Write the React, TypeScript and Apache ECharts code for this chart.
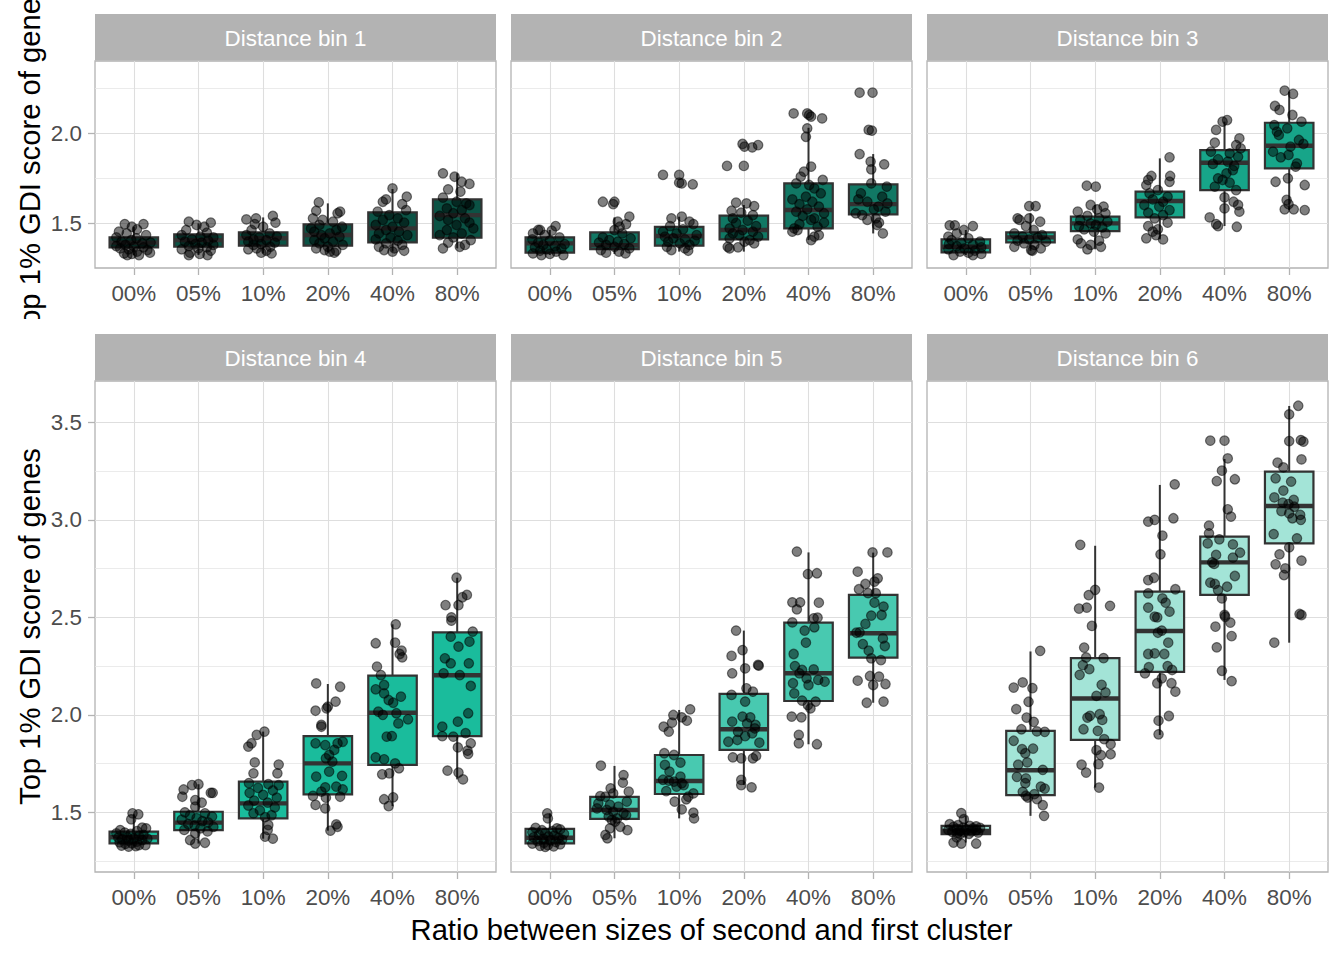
import React, { useEffect, useRef } from "react";
import * as echarts from "echarts";

const categories = ["00%", "05%", "10%", "20%", "40%", "80%"];
const panelTitles = ["Distance bin 1", "Distance bin 2", "Distance bin 3", "Distance bin 4", "Distance bin 5", "Distance bin 6"];
const boxFills = ["#0B5345", "#117864", "#17A589", "#1ABC9C", "#48C9B0", "#A3E4D7"];
const yTitle = "Top 1% GDI score of genes";
const xTitle = "Ratio between sizes of second and first cluster";

const topRowRange = [1.252, 2.402];
const bottomRowRange = [1.194, 3.712];
const topRowMajor = [1.5, 2.0];
const topRowGrid = [1.25, 1.5, 1.75, 2.0, 2.25];
const bottomRowMajor = [1.5, 2.0, 2.5, 3.0, 3.5];
const bottomRowGrid = [1.25, 1.5, 1.75, 2.0, 2.25, 2.5, 2.75, 3.0, 3.25, 3.5];

// box stats per category: [lower whisker, q1, median, q3, upper whisker]
const boxBin1 = [
  [1.324, 1.367, 1.393, 1.422, 1.481],
  [1.324, 1.37, 1.407, 1.439, 1.5],
  [1.333, 1.376, 1.417, 1.45, 1.533],
  [1.337, 1.376, 1.435, 1.494, 1.611],
  [1.343, 1.394, 1.472, 1.561, 1.691],
  [1.361, 1.42, 1.546, 1.633, 1.778],
];
const boxBin2 = [
  [1.324, 1.337, 1.389, 1.422, 1.463],
  [1.33, 1.357, 1.378, 1.45, 1.533],
  [1.343, 1.376, 1.43, 1.481, 1.537],
  [1.343, 1.411, 1.463, 1.543, 1.602],
  [1.407, 1.472, 1.574, 1.722, 2.031],
  [1.444, 1.55, 1.607, 1.717, 1.885],
];
const boxBin3 = [
  [1.324, 1.339, 1.37, 1.411, 1.463],
  [1.348, 1.394, 1.422, 1.45, 1.556],
  [1.356, 1.457, 1.5, 1.537, 1.602],
  [1.411, 1.533, 1.624, 1.676, 1.861],
  [1.485, 1.685, 1.837, 1.907, 2.065],
  [1.574, 1.806, 1.931, 2.059, 2.231],
];
const boxBin4 = [
  [1.324, 1.341, 1.372, 1.401, 1.49],
  [1.34, 1.409, 1.447, 1.503, 1.644],
  [1.365, 1.469, 1.546, 1.657, 1.914],
  [1.406, 1.592, 1.751, 1.891, 2.158],
  [1.532, 1.743, 2.011, 2.201, 2.464],
  [1.669, 1.891, 2.203, 2.423, 2.703],
];
const boxBin5 = [
  [1.324, 1.341, 1.37, 1.415, 1.495],
  [1.367, 1.466, 1.512, 1.579, 1.738],
  [1.469, 1.594, 1.661, 1.794, 2.025],
  [1.64, 1.82, 1.926, 2.107, 2.432],
  [1.849, 2.071, 2.213, 2.473, 2.833],
  [2.062, 2.293, 2.418, 2.615, 2.832],
];
const boxBin6 = [
  [1.345, 1.388, 1.405, 1.431, 1.482],
  [1.482, 1.588, 1.716, 1.918, 2.325],
  [1.627, 1.872, 2.084, 2.291, 2.867],
  [1.897, 2.22, 2.43, 2.632, 3.179],
  [2.179, 2.615, 2.782, 2.914, 3.312],
  [2.37, 2.879, 3.071, 3.247, 3.584],
];

// jittered points per category: [jitter offset from the category, value]
const pointsBin1 = [
  [[-0.14,1.496],[0.15,1.496],[-0.03,1.481],[0.05,1.467],[-0.23,1.454],[-0.11,1.444],[0.19,1.435],[-0.27,1.422],[0.04,1.417],[-0.04,1.407],[-0.19,1.398],[0.26,1.393],[0.13,1.389],[-0.13,1.38],[-0.27,1.374],[0,1.37],[0.15,1.367],[-0.21,1.361],[-0.08,1.356],[0.21,1.352],[0.05,1.343],[0.25,1.337],[-0.15,1.333],[-0.03,1.33],[-0.1,1.324],[0.08,1.324]],
  [[-0.15,1.509],[0.19,1.504],[-0.03,1.491],[0.09,1.481],[-0.19,1.463],[0.13,1.448],[-0.26,1.435],[0.03,1.426],[0.23,1.422],[-0.1,1.411],[0.15,1.404],[-0.21,1.398],[0.05,1.393],[-0.05,1.385],[0.23,1.38],[-0.15,1.374],[0.13,1.367],[0,1.361],[-0.26,1.356],[0.19,1.348],[-0.13,1.337],[0.02,1.33],[0.14,1.324],[-0.15,1.324]],
  [[0.15,1.541],[-0.11,1.528],[-0.26,1.522],[0.19,1.504],[-0.13,1.496],[0,1.481],[-0.18,1.463],[0.1,1.444],[-0.26,1.435],[0.21,1.426],[-0.06,1.422],[-0.15,1.411],[0.05,1.407],[-0.23,1.398],[0.18,1.393],[-0.03,1.385],[-0.15,1.38],[0.11,1.37],[-0.1,1.361],[-0.23,1.356],[0.05,1.348],[-0.03,1.337],[0.13,1.333]],
  [[-0.14,1.617],[-0.18,1.57],[0.19,1.565],[0.15,1.556],[-0.23,1.528],[-0.08,1.519],[0.08,1.509],[-0.13,1.491],[0.22,1.481],[-0.26,1.472],[0.13,1.463],[-0.21,1.454],[0.03,1.444],[-0.1,1.435],[0.18,1.426],[-0.05,1.417],[-0.21,1.407],[0.08,1.398],[-0.13,1.389],[0.23,1.38],[0,1.37],[-0.18,1.361],[-0.05,1.352],[0.13,1.348],[0.03,1.343],[0.1,1.337]],
  [[0,1.694],[0.22,1.648],[-0.1,1.633],[-0.15,1.62],[0.15,1.607],[0.21,1.574],[-0.23,1.565],[-0.05,1.546],[0.08,1.528],[-0.15,1.519],[0.18,1.504],[-0.26,1.491],[0,1.481],[-0.1,1.463],[0.1,1.454],[-0.21,1.444],[0.23,1.435],[-0.03,1.422],[-0.26,1.411],[0.08,1.404],[-0.1,1.389],[0.15,1.38],[-0.21,1.37],[0.03,1.361],[-0.13,1.352],[0.18,1.348],[0,1.343]],
  [[-0.22,1.778],[-0.04,1.759],[0.07,1.731],[0.19,1.719],[-0.14,1.689],[0.05,1.676],[-0.22,1.643],[-0.01,1.62],[0.14,1.611],[0.19,1.602],[-0.16,1.583],[0.07,1.574],[-0.06,1.556],[-0.27,1.541],[0.12,1.528],[-0.14,1.519],[0.19,1.504],[-0.01,1.491],[0.25,1.472],[-0.16,1.463],[0.07,1.444],[-0.27,1.435],[-0.06,1.422],[0.21,1.407],[-0.14,1.393],[0.12,1.38],[0.04,1.37],[-0.22,1.361]],
];
const pointsBin2 = [
  [[0.09,1.485],[-0.18,1.463],[-0.15,1.463],[0.03,1.459],[-0.26,1.444],[-0.08,1.435],[0.15,1.422],[-0.27,1.411],[0,1.404],[-0.18,1.393],[0.23,1.385],[-0.1,1.38],[0.08,1.374],[-0.23,1.367],[0.18,1.361],[-0.05,1.356],[-0.15,1.348],[0.1,1.343],[-0.26,1.333],[0,1.33],[0.21,1.324],[-0.13,1.324]],
  [[-0.18,1.62],[0,1.62],[-0.02,1.607],[0.23,1.537],[0.05,1.509],[0.18,1.496],[0.08,1.481],[0,1.463],[0.12,1.444],[-0.18,1.422],[0.25,1.417],[-0.08,1.407],[0.05,1.398],[-0.24,1.393],[0.15,1.385],[-0.13,1.38],[0,1.37],[0.23,1.361],[-0.21,1.352],[0.07,1.343],[-0.13,1.337],[0.17,1.333]],
  [[-0.25,1.769],[0,1.769],[0,1.726],[0.21,1.717],[0.04,1.722],[0.04,1.537],[-0.12,1.528],[0.16,1.509],[0.22,1.496],[-0.14,1.485],[0.06,1.467],[-0.25,1.454],[-0.04,1.444],[0.27,1.435],[-0.22,1.426],[-0.09,1.417],[0.09,1.411],[0.24,1.404],[-0.17,1.398],[0.01,1.389],[0.16,1.38],[-0.19,1.37],[0.09,1.361],[-0.12,1.352],[0.14,1.348]],
  [[-0.02,1.941],[0.01,1.926],[0.22,1.935],[0.13,1.922],[-0.26,1.819],[0,1.819],[-0.12,1.615],[0.04,1.611],[0.16,1.596],[-0.19,1.57],[-0.04,1.559],[0.14,1.546],[-0.17,1.528],[0.06,1.515],[-0.12,1.502],[0.19,1.485],[-0.22,1.472],[-0.02,1.463],[0.14,1.454],[-0.17,1.444],[-0.07,1.435],[0.22,1.426],[-0.22,1.417],[0.09,1.407],[0.01,1.398],[0.16,1.389],[-0.25,1.37],[-0.09,1.367],[-0.22,1.361]],
  [[-0.23,2.111],[-0.02,2.111],[0.01,2.102],[0.04,2.093],[0.21,2.083],[-0.02,2.028],[-0.04,1.981],[0.04,1.815],[-0.07,1.787],[-0.12,1.759],[0.22,1.741],[-0.19,1.722],[0.01,1.713],[0.09,1.694],[0.19,1.667],[-0.04,1.648],[-0.25,1.633],[0.06,1.62],[-0.14,1.607],[0.16,1.593],[-0.02,1.578],[-0.19,1.565],[0.24,1.556],[-0.09,1.541],[0.09,1.528],[0.04,1.519],[0.24,1.504],[-0.14,1.496],[0.14,1.481],[-0.22,1.472],[-0.17,1.463],[-0.25,1.454],[0.16,1.435],[0.09,1.426],[0.04,1.407]],
  [[-0.21,2.226],[-0.01,2.226],[-0.07,2.019],[-0.02,2.015],[-0.21,1.885],[-0.04,1.843],[0.17,1.828],[-0.03,1.8],[-0.03,1.722],[0.21,1.704],[-0.19,1.667],[0.14,1.648],[-0.23,1.633],[-0.09,1.62],[0.22,1.611],[0.08,1.593],[0.01,1.578],[0.19,1.565],[-0.27,1.556],[-0.17,1.546],[0.04,1.528],[-0.09,1.519],[0.09,1.504],[0.06,1.491],[0.15,1.444]],
];
const pointsBin3 = [
  [[-0.25,1.489],[-0.17,1.489],[0.11,1.485],[-0.03,1.463],[-0.14,1.444],[-0.27,1.426],[0.04,1.417],[-0.22,1.407],[0.22,1.398],[-0.07,1.393],[-0.26,1.385],[0.11,1.38],[-0.14,1.374],[0.24,1.367],[-0.02,1.361],[-0.27,1.356],[0.14,1.348],[-0.09,1.343],[0.04,1.337],[0.24,1.33],[-0.19,1.324],[0.11,1.324]],
  [[-0.02,1.596],[0.08,1.596],[-0.2,1.528],[-0.17,1.519],[-0.02,1.528],[0.15,1.509],[-0.07,1.485],[0.05,1.463],[-0.25,1.444],[0.18,1.435],[-0.12,1.426],[0.11,1.422],[-0.02,1.411],[-0.2,1.404],[0.24,1.398],[-0.1,1.389],[0.06,1.38],[-0.25,1.37],[0.16,1.361],[0.01,1.352],[0.03,1.348]],
  [[-0.13,1.709],[0.01,1.704],[-0.07,1.602],[0.13,1.593],[0.03,1.578],[-0.27,1.565],[0.16,1.556],[-0.12,1.541],[0.06,1.528],[-0.23,1.519],[0.19,1.509],[-0.07,1.5],[0.01,1.491],[-0.25,1.485],[0.11,1.478],[-0.17,1.467],[-0.02,1.454],[0.16,1.444],[-0.27,1.411],[0.06,1.404],[-0.22,1.389],[-0.07,1.38],[0.09,1.37],[-0.12,1.356]],
  [[0.15,1.867],[-0.13,1.763],[0.16,1.763],[-0.18,1.741],[0.15,1.731],[-0.21,1.713],[-0.03,1.685],[-0.16,1.667],[0.12,1.648],[-0.11,1.633],[0.05,1.62],[-0.24,1.602],[-0.01,1.593],[0.15,1.574],[-0.18,1.559],[0.05,1.546],[-0.08,1.528],[0.12,1.504],[-0.18,1.485],[-0.03,1.467],[-0.11,1.454],[-0.06,1.435],[-0.21,1.417],[0.05,1.411]],
  [[0.04,2.074],[-0.03,2.065],[-0.13,2.019],[0.23,1.972],[-0.15,1.948],[0.18,1.935],[0.25,1.917],[-0.21,1.898],[0.08,1.889],[0.21,1.87],[-0.1,1.856],[0.05,1.843],[-0.18,1.83],[0.15,1.819],[0.13,1.796],[0.03,1.778],[-0.1,1.75],[-0.03,1.741],[0.08,1.726],[-0.15,1.704],[0.18,1.685],[0,1.644],[0.14,1.62],[0.21,1.602],[0,1.583],[0.23,1.565],[-0.23,1.533],[-0.13,1.496],[-0.1,1.485],[0.19,1.481]],
  [[-0.07,2.237],[0.06,2.219],[-0.22,2.152],[-0.15,2.13],[0.05,2.102],[0.19,2.065],[-0.23,2.046],[-0.03,2.028],[-0.19,2.009],[-0.16,1.991],[0.15,1.963],[0.22,1.941],[0.02,1.926],[-0.25,1.898],[-0.01,1.88],[-0.13,1.867],[0.12,1.833],[0.1,1.815],[-0.02,1.75],[-0.21,1.731],[0.24,1.713],[-0.04,1.63],[-0.01,1.607],[-0.07,1.578],[0.07,1.578],[0.24,1.574]],
];
const pointsBin4 = [
  [[-0.02,1.495],[0.07,1.49],[-0.04,1.464],[0.13,1.421],[0.19,1.418],[-0.21,1.409],[0.05,1.404],[-0.14,1.396],[-0.27,1.392],[-0.05,1.389],[0.15,1.384],[0.08,1.379],[-0.1,1.372],[-0.24,1.37],[0,1.367],[0.21,1.365],[-0.18,1.362],[0.13,1.358],[-0.08,1.355],[0.05,1.35],[-0.22,1.346],[-0.03,1.341],[-0.13,1.338],[0.08,1.332],[-0.19,1.329],[0.03,1.327],[-0.08,1.324],[0.18,1.332]],
  [[0,1.644],[-0.1,1.64],[-0.23,1.617],[0.22,1.6],[0.19,1.6],[-0.25,1.58],[-0.05,1.563],[0.05,1.55],[-0.05,1.529],[-0.21,1.5],[0.1,1.495],[-0.13,1.485],[0.21,1.478],[-0.03,1.47],[-0.26,1.462],[0.06,1.455],[0.15,1.448],[-0.16,1.44],[-0.06,1.432],[0.23,1.425],[0.03,1.418],[-0.22,1.41],[0.14,1.402],[-0.05,1.392],[-0.13,1.358],[0.1,1.344],[-0.05,1.34]],
  [[0.02,1.914],[-0.1,1.897],[-0.18,1.854],[-0.23,1.837],[-0.13,1.756],[0.24,1.745],[-0.15,1.7],[0.22,1.7],[-0.22,1.65],[0.08,1.645],[0.24,1.64],[-0.08,1.625],[0.15,1.612],[-0.21,1.6],[0,1.59],[0.21,1.575],[-0.14,1.56],[0.07,1.55],[-0.23,1.535],[0.18,1.525],[-0.05,1.51],[-0.15,1.495],[0.13,1.485],[0.03,1.475],[0.08,1.435],[0.07,1.41],[0.03,1.375],[0.15,1.365]],
  [[-0.18,2.161],[0.19,2.144],[0.12,2.068],[0,2.042],[-0.02,2.033],[-0.19,2.021],[-0.1,1.948],[-0.1,1.939],[-0.19,1.854],[-0.04,1.845],[0.15,1.854],[0.23,1.862],[0.1,1.82],[0.02,1.794],[-0.03,1.777],[0.07,1.76],[0.02,1.709],[-0.18,1.683],[0.22,1.687],[-0.04,1.628],[0.13,1.632],[0.23,1.618],[-0.1,1.606],[-0.23,1.584],[-0.03,1.575],[0.19,1.58],[-0.19,1.538],[-0.04,1.52],[0.13,1.438],[0.15,1.426],[0.04,1.406]],
  [[0.05,2.464],[-0.26,2.367],[0.04,2.37],[0.14,2.329],[0.11,2.312],[0.15,2.295],[-0.24,2.247],[-0.18,2.204],[-0.13,2.153],[-0.26,2.131],[-0.13,2.11],[0.13,2.093],[-0.06,2.076],[0.01,2.062],[-0.22,2.016],[0.06,2.008],[-0.15,2.0],[0.24,1.977],[0.09,1.956],[-0.09,1.888],[-0.01,1.891],[-0.26,1.782],[-0.13,1.772],[0.04,1.751],[0.1,1.726],[-0.05,1.7],[-0.16,1.695],[-0.13,1.567],[0.01,1.577],[-0.06,1.532]],
  [[-0.01,2.703],[0.15,2.615],[0.08,2.603],[-0.18,2.563],[0.02,2.563],[-0.09,2.5],[-0.09,2.483],[0.24,2.427],[-0.1,2.401],[0.19,2.375],[0.02,2.35],[-0.19,2.29],[-0.1,2.264],[0.18,2.264],[-0.21,2.213],[0.04,2.204],[0.21,2.148],[0.17,2.008],[0.01,1.965],[-0.23,1.939],[0.13,1.906],[-0.23,1.891],[-0.06,1.888],[0.21,1.854],[0.01,1.833],[0.16,1.816],[0.17,1.8],[-0.15,1.714],[0.02,1.704],[0.09,1.669]],
];
const pointsBin5 = [
  [[-0.04,1.495],[-0.03,1.469],[-0.22,1.42],[0.11,1.418],[0.16,1.412],[-0.12,1.408],[0.04,1.403],[-0.27,1.398],[-0.07,1.393],[0.22,1.39],[-0.17,1.385],[0.07,1.38],[-0.02,1.376],[-0.25,1.372],[0.14,1.368],[-0.1,1.364],[0.19,1.36],[0.01,1.356],[-0.19,1.352],[0.09,1.348],[-0.09,1.344],[-0.27,1.34],[0.16,1.336],[-0.03,1.332],[-0.15,1.328],[0.06,1.325],[-0.07,1.323]],
  [[-0.21,1.739],[0.14,1.691],[0.13,1.652],[-0.06,1.623],[0.22,1.606],[-0.02,1.597],[-0.22,1.583],[-0.14,1.58],[0.19,1.555],[-0.25,1.546],[-0.07,1.538],[0.06,1.529],[-0.27,1.52],[-0.12,1.512],[-0.02,1.503],[0.14,1.495],[0.18,1.486],[-0.09,1.478],[0.04,1.469],[-0.04,1.461],[0.01,1.452],[0.09,1.426],[-0.07,1.418],[0.2,1.409],[-0.14,1.384],[-0.11,1.367]],
  [[0.17,2.028],[-0.09,1.999],[0.04,1.987],[0.12,1.97],[-0.11,1.96],[-0.24,1.939],[-0.16,1.914],[-0.23,1.803],[-0.08,1.794],[0.02,1.755],[-0.22,1.743],[-0.15,1.709],[0.02,1.683],[-0.25,1.667],[-0.16,1.662],[-0.08,1.657],[0.04,1.649],[0.07,1.64],[-0.04,1.632],[-0.2,1.609],[0.22,1.597],[0.14,1.58],[0.11,1.567],[-0.07,1.555],[0.04,1.515],[0.22,1.498],[0.23,1.469]],
  [[-0.12,2.432],[-0.02,2.332],[-0.19,2.302],[0.22,2.256],[0.23,2.252],[0.02,2.238],[-0.18,2.213],[0.04,2.136],[0.14,2.119],[-0.19,2.102],[0.02,2.068],[-0.02,1.991],[0.1,1.987],[-0.18,1.965],[0.05,1.956],[0.18,1.948],[0.17,1.93],[-0.09,1.913],[0.13,1.905],[0.02,1.891],[-0.1,1.871],[-0.24,1.862],[0.24,1.857],[0.19,1.789],[-0.17,1.782],[-0.04,1.777],[0.14,1.777],[-0.04,1.666],[-0.04,1.64],[0.12,1.628]],
  [[-0.18,2.837],[-0.01,2.722],[0.13,2.726],[-0.25,2.577],[-0.13,2.577],[-0.18,2.541],[0.16,2.575],[0.14,2.498],[0.08,2.495],[-0.25,2.474],[0.09,2.449],[-0.06,2.432],[-0.04,2.37],[-0.23,2.312],[-0.21,2.25],[-0.1,2.23],[0.08,2.233],[-0.14,2.213],[-0.03,2.187],[0.15,2.179],[0.25,2.17],[-0.24,2.162],[0,2.153],[-0.22,2.11],[-0.1,2.073],[0.11,2.068],[-0.01,2.05],[0.03,2.033],[-0.26,1.991],[-0.11,1.987],[-0.15,1.897],[-0.15,1.854],[0.13,1.849]],
  [[-0.01,2.833],[0.22,2.833],[-0.24,2.734],[0.07,2.7],[0.02,2.683],[-0.12,2.671],[-0.22,2.644],[-0.08,2.624],[0.04,2.624],[0.02,2.575],[0.16,2.555],[0.13,2.512],[-0.03,2.509],[-0.12,2.466],[-0.21,2.423],[-0.26,2.421],[0.15,2.392],[-0.16,2.363],[0.18,2.353],[-0.07,2.329],[-0.03,2.29],[0.12,2.281],[-0.05,2.199],[0.09,2.196],[-0.24,2.175],[0,2.153],[0.19,2.158],[-0.1,2.062],[0.16,2.068]],
];
const pointsBin6 = [
  [[-0.07,1.496],[-0.03,1.465],[-0.25,1.439],[-0.12,1.434],[0.06,1.43],[0.16,1.428],[-0.19,1.425],[-0.04,1.422],[0.22,1.42],[0.11,1.418],[-0.14,1.415],[0.01,1.412],[-0.27,1.41],[0.16,1.408],[-0.09,1.405],[0.09,1.402],[-0.21,1.4],[-0.02,1.398],[0.19,1.396],[-0.13,1.393],[0.05,1.39],[-0.09,1.388],[-0.14,1.371],[-0.19,1.345],[-0.07,1.34],[0.16,1.34]],
  [[0.15,2.328],[-0.12,2.166],[-0.26,2.14],[0.03,2.137],[-0.03,2.067],[-0.22,2.029],[-0.06,1.986],[0.05,1.964],[-0.14,1.926],[0.1,1.915],[0.22,1.913],[-0.26,1.867],[-0.13,1.824],[0.04,1.827],[-0.08,1.803],[-0.19,1.744],[-0.05,1.756],[0.19,1.718],[-0.21,1.682],[-0.07,1.674],[-0.08,1.65],[0.16,1.632],[0.22,1.622],[-0.12,1.605],[0.06,1.593],[-0.07,1.585],[-0.04,1.576],[0.1,1.568],[0.19,1.537],[0.21,1.482]],
  [[-0.23,2.872],[0,2.641],[-0.1,2.614],[0.23,2.559],[-0.13,2.55],[-0.25,2.545],[-0.05,2.456],[-0.17,2.345],[-0.14,2.294],[0.13,2.291],[-0.19,2.255],[-0.09,2.234],[-0.24,2.205],[0.1,2.154],[0.16,2.115],[0.02,2.097],[-0.08,1.995],[-0.12,1.986],[0.07,2.003],[0.11,1.974],[-0.18,1.926],[0.04,1.918],[0.14,1.875],[0.24,1.85],[0.02,1.819],[0.24,1.798],[0.09,1.793],[0.05,1.747],[-0.21,1.744],[-0.14,1.704],[0.06,1.627]],
  [[0.23,3.182],[0.21,3.008],[-0.18,2.991],[-0.08,3.0],[0.04,2.919],[0.01,2.823],[-0.09,2.703],[-0.18,2.691],[0.24,2.644],[-0.18,2.623],[0.04,2.597],[0.09,2.575],[-0.18,2.55],[0.15,2.529],[-0.08,2.503],[-0.04,2.5],[0.03,2.432],[-0.03,2.421],[0.13,2.37],[-0.18,2.312],[0.07,2.312],[-0.08,2.315],[0.12,2.25],[-0.17,2.244],[0.19,2.23],[-0.23,2.213],[0.03,2.187],[-0.04,2.162],[0.18,2.162],[0.24,2.119],[0.14,1.994],[-0.02,1.97],[-0.02,1.9]],
  [[-0.22,3.406],[0,3.406],[0.05,3.315],[-0.04,3.252],[0.16,3.208],[-0.12,3.199],[0.05,3.054],[0.1,3.016],[-0.24,2.97],[-0.24,2.931],[-0.08,2.9],[-0.26,2.879],[0.13,2.874],[0.24,2.832],[-0.13,2.82],[0.13,2.806],[-0.19,2.782],[-0.16,2.774],[0.16,2.712],[-0.22,2.678],[-0.15,2.671],[0.04,2.657],[-0.1,2.64],[-0.04,2.597],[0,2.512],[0.01,2.503],[0.09,2.473],[-0.14,2.452],[0.11,2.404],[-0.12,2.346],[-0.04,2.226],[0.11,2.173]],
  [[0.14,3.585],[0,3.541],[0,3.404],[0.18,3.409],[0.22,3.401],[0.19,3.31],[-0.18,3.293],[-0.09,3.269],[-0.21,3.213],[0.03,3.196],[-0.09,3.15],[-0.23,3.115],[0.07,3.102],[-0.1,3.088],[-0.01,3.081],[0.08,3.067],[-0.12,3.045],[0,3.033],[0.17,3.025],[0.05,3.008],[0.18,3.0],[-0.24,2.927],[0.12,2.905],[0,2.859],[-0.15,2.823],[-0.21,2.772],[0.19,2.791],[-0.06,2.751],[-0.08,2.717],[0.16,2.517],[0.19,2.512],[-0.23,2.37]],
];

const allBoxes = [boxBin1, boxBin2, boxBin3, boxBin4, boxBin5, boxBin6];
const allPoints = [pointsBin1, pointsBin2, pointsBin3, pointsBin4, pointsBin5, pointsBin6];

const FONT = '"Liberation Sans", Arial, sans-serif';
const panelLefts = [95, 511, 927];
const panelWidth = 401;
const rowTops = [61, 381];
const rowHeights = [207, 491];
const stripH = 47;

function makeBoxRenderer(fill: string) {
  return (_params: any, api: any) => {
    const x = api.value(0);
    const lo = api.coord([x, api.value(1)]);
    const q1 = api.coord([x, api.value(2)]);
    const med = api.coord([x, api.value(3)]);
    const q3 = api.coord([x, api.value(4)]);
    const hi = api.coord([x, api.value(5)]);
    const w = Math.abs(api.size([0.75, 0])[0]);
    const cx = lo[0];
    const stroke = "#333333";
    return {
      type: "group",
      children: [
        { type: "line", shape: { x1: cx, y1: hi[1], x2: cx, y2: q3[1] }, style: { stroke, lineWidth: 2 } },
        { type: "line", shape: { x1: cx, y1: q1[1], x2: cx, y2: lo[1] }, style: { stroke, lineWidth: 2 } },
        { type: "rect", shape: { x: cx - w / 2, y: q3[1], width: w, height: q1[1] - q3[1] }, style: { fill, stroke, lineWidth: 2.2 } },
        { type: "line", shape: { x1: cx - w / 2, y1: med[1], x2: cx + w / 2, y2: med[1] }, style: { stroke, lineWidth: 4.4 } },
      ],
    };
  };
}

export default function App() {
  const ref = useRef<HTMLDivElement>(null);
  useEffect(() => {
    if (!ref.current) return;
    const chart = echarts.init(ref.current, undefined, { renderer: "svg" });
    const grids: any[] = [];
    const xAxes: any[] = [];
    const yAxes: any[] = [];
    const series: any[] = [];
    const graphics: any[] = [];

    for (let p = 0; p < 6; p++) {
      const row = Math.floor(p / 3);
      const col = p % 3;
      const left = panelLefts[col];
      const top = rowTops[row];
      const height = rowHeights[row];
      const range = row === 0 ? topRowRange : bottomRowRange;
      const major = row === 0 ? topRowMajor : bottomRowMajor;
      const gridVals = row === 0 ? topRowGrid : bottomRowGrid;
      grids.push({
        left, top, width: panelWidth, height,
        show: true, borderColor: "#B3B3B3", borderWidth: 1.3, backgroundColor: "transparent",
      });
      xAxes.push({
        type: "value", gridIndex: p, min: -0.6, max: 5.6, position: "bottom",
        axisLine: { show: false },
        axisTick: { show: true, customValues: [0, 1, 2, 3, 4, 5], length: 7, lineStyle: { color: "#B3B3B3", width: 1.3 } },
        axisLabel: {
          customValues: [0, 1, 2, 3, 4, 5], showMinLabel: true, showMaxLabel: true,
          formatter: (v: number) => categories[Math.round(v)] ?? "",
          color: "#4D4D4D", fontSize: 22.4, fontFamily: FONT, margin: 14,
        },
        splitLine: { show: true, lineStyle: { color: "#DEDEDE", width: 1.1 } },
      });
      yAxes.push({
        type: "value", gridIndex: p, min: range[0], max: range[1], position: "left", offset: 0,
        axisLine: { show: false },
        axisTick: { show: false, customValues: gridVals },
        axisLabel: { show: false, customValues: gridVals },
        splitLine: { show: true, lineStyle: { color: "#E6E6E6", width: 0.8 } },
      });
      yAxes.push({
        type: "value", gridIndex: p, min: range[0], max: range[1], position: "left", offset: 0,
        axisLine: { show: false },
        axisTick: { show: col === 0, customValues: major, length: 7, lineStyle: { color: "#B3B3B3", width: 1.3 } },
        axisLabel: {
          show: col === 0, customValues: major, showMinLabel: true, showMaxLabel: true,
          formatter: (v: number) => v.toFixed(1),
          color: "#4D4D4D", fontSize: 22.4, fontFamily: FONT, margin: 13,
        },
        splitLine: { show: true, lineStyle: { color: "#DEDEDE", width: 1.1 } },
      });
      series.push({
        type: "custom", xAxisIndex: p, yAxisIndex: 2 * p + 1,
        renderItem: makeBoxRenderer(boxFills[p]),
        encode: { x: 0, y: [1, 2, 3, 4, 5] },
        data: allBoxes[p].map((s, i) => [i, ...s]),
        z: 2, clip: false,
      });
      series.push({
        type: "scatter", xAxisIndex: p, yAxisIndex: 2 * p + 1,
        symbol: "circle", symbolSize: 9.5,
        itemStyle: { color: "rgba(0,0,0,0.5)", borderColor: "rgba(0,0,0,0.5)", borderWidth: 1.2, opacity: 1 },
        data: allPoints[p].flatMap((grp, i) => grp.map(([dx, v]) => [i + dx, v])),
        z: 3, silent: true,
      });
      graphics.push({
        type: "rect", shape: { x: left, y: top - stripH, width: panelWidth, height: stripH - 0.5 },
        style: { fill: "#B3B3B3" }, silent: true,
      });
      graphics.push({
        type: "text", x: left + panelWidth / 2, y: top - stripH / 2 + 1,
        style: { text: panelTitles[p], fill: "#FFFFFF", fontSize: 22.4, fontFamily: FONT, align: "center", verticalAlign: "middle" },
        silent: true,
      });
    }

    // top-row axis title, clipped at the bottom of the upper sub-figure as in the original
    graphics.push({
      type: "text", x: 30, y: 162, rotation: Math.PI / 2,
      style: { text: yTitle, fill: "#000000", fontSize: 29.2, fontFamily: FONT, align: "center", verticalAlign: "middle" },
      z: 5, silent: true,
    });
    graphics.push({
      type: "rect", shape: { x: 0, y: 319, width: 47, height: 125 },
      style: { fill: "#FFFFFF" }, z: 6, silent: true,
    });
    graphics.push({
      type: "text", x: 30, y: (rowTops[1] + rowTops[1] + rowHeights[1]) / 2, rotation: Math.PI / 2,
      style: { text: yTitle, fill: "#000000", fontSize: 29.2, fontFamily: FONT, align: "center", verticalAlign: "middle" },
      z: 5, silent: true,
    });
    graphics.push({
      type: "text", x: (panelLefts[0] + panelLefts[2] + panelWidth) / 2, y: 930,
      style: { text: xTitle, fill: "#000000", fontSize: 29.2, fontFamily: FONT, align: "center", verticalAlign: "middle" },
      silent: true,
    });

    chart.setOption({
      animation: false,
      backgroundColor: "#FFFFFF",
      grid: grids,
      xAxis: xAxes,
      yAxis: yAxes,
      series,
      graphic: graphics,
    });
    return () => chart.dispose();
  }, []);
  return <div ref={ref} style={{ position: "absolute", left: 0, top: 0, width: 1344, height: 960 }} />;
}
